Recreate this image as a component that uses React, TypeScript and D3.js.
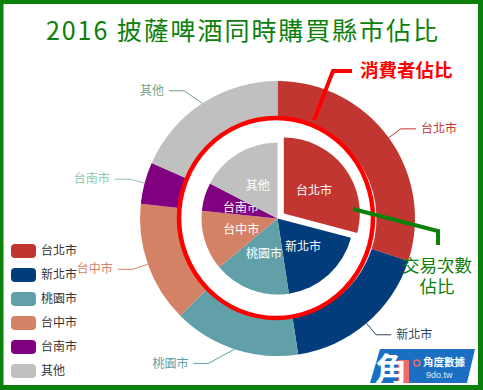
import React from "react";
import * as d3 from "d3";

// 縣市與兩組佔比（%）
const cities = ["台北市", "新北市", "桃園市", "台中市", "台南市", "其他"];
const consumerShare = [30.0, 17.6, 14.9, 14.2, 4.9, 18.4]; // 外環：消費者佔比
const tradeShare = [29.1, 18.5, 16.3, 12.7, 6.0, 17.4]; // 內圓：交易次數佔比
const sliceColors = ["#c23632", "#023c7b", "#61a0a8", "#d48265", "#800080", "#c0c0c0"];
const labelColors = ["#c23531", "#2f4554", "#61a0a8", "#d48265", "#91c7ae", "#749f83"];

const W = 483;
const H = 390;
const cx = 277.5;
const cy = 218.5;
const outerR = 137.5;
const ringInnerR = 99;
const pieR = 76;
const explode = 8;
const FONT = "'Noto Sans CJK TC', 'Noto Sans CJK SC', sans-serif";
// tighter line metrics for stacked notes; CJK glyphs fall back to Noto
const TIGHT = "'Liberation Sans', 'Noto Sans CJK TC', sans-serif";
const GREEN = "#0b800b";

export default function App() {
  const pie = d3.pie<number>().sort(null).value((d) => d);
  const outerArcs = pie(consumerShare);
  const innerArcs = pie(tradeShare);

  const ringArc = d3.arc<d3.PieArcDatum<number>>().innerRadius(ringInnerR).outerRadius(outerR);
  const pieArc = d3.arc<d3.PieArcDatum<number>>().innerRadius(0).outerRadius(pieR);

  // 外環標籤與引導線
  const len1 = 15;
  const len2 = 15;
  const outerLabels = outerArcs.map((a, i) => {
    const mid = (a.startAngle + a.endAngle) / 2;
    const sx = Math.sin(mid);
    const sy = -Math.cos(mid);
    const right = sx >= 0;
    const dir = right ? 1 : -1;
    const p0: [number, number] = [cx + outerR * sx, cy + outerR * sy];
    const y = cy + (outerR + len1) * sy;
    let endX: number;
    if (right) {
      endX = cx + (outerR + len1) * sx + len2;
    } else {
      const dy = Math.abs(y - cy);
      const R = outerR + len1 + len2;
      endX = cx - Math.sqrt(R * R - dy * dy);
    }
    const p1: [number, number] = [endX - dir * len2, y];
    const p2: [number, number] = [endX, y];
    return { name: cities[i], color: labelColors[i], pts: [p0, p1, p2], right, tx: endX + dir * 5, ty: y };
  });

  const legendY = d3.scalePoint<string>().domain(cities).range([251, 371]);

  return (
    <svg
      width={W}
      height={H}
      style={{ position: "fixed", left: 0, top: 0, background: "#fff" }}
      fontFamily={FONT}
    >
      <rect width={W} height={H} fill="#fff" />

      {/* 標題 */}
      <text
        x={242}
        y={40}
        textAnchor="middle"
        fontSize={25}
        fill={GREEN}
        textLength={392}
        lengthAdjust="spacing"
      >
        2016 披薩啤酒同時購買縣市佔比
      </text>

      {/* 外環 */}
      <g transform={`translate(${cx},${cy})`}>
        {outerArcs.map((a, i) => (
          <path key={i} d={ringArc(a) || ""} fill={sliceColors[i]} />
        ))}
      </g>

      {/* 內圓 */}
      <g transform={`translate(${cx},${cy})`}>
        {innerArcs.map((a, i) => {
          const mid = (a.startAngle + a.endAngle) / 2;
          const off = i === 0 ? explode : 0;
          const dx = off * Math.sin(mid);
          const dy = -off * Math.cos(mid);
          const lr = pieR / 2;
          return (
            <g key={i} transform={`translate(${dx},${dy})`}>
              <path d={pieArc(a) || ""} fill={sliceColors[i]} />
              <text
                x={lr * Math.sin(mid)}
                y={-lr * Math.cos(mid)}
                dy="0.35em"
                textAnchor="middle"
                fontSize={12}
                fill="#fff"
              >
                {cities[i]}
              </text>
            </g>
          );
        })}
      </g>

      {/* 外環標籤 */}
      {outerLabels.map((l, i) => (
        <g key={i}>
          <polyline
            points={l.pts.map((p) => p.join(",")).join(" ")}
            fill="none"
            stroke={l.color}
            strokeWidth={1}
          />
          <text
            x={l.tx}
            y={l.ty}
            dy="0.35em"
            textAnchor={l.right ? "start" : "end"}
            fontSize={12}
            fill={l.color}
          >
            {l.name}
          </text>
        </g>
      ))}

      {/* 圖例 */}
      {cities.map((c, i) => (
        <g key={c}>
          <rect x={11} y={legendY(c)! - 7} width={25} height={14} rx={4} fill={sliceColors[i]} />
          <text x={41} y={legendY(c)!} dy="0.35em" fontSize={12} fill="#333">
            {c}
          </text>
        </g>
      ))}

      {/* 手繪註記 */}
      <ellipse cx={cx - 1.5} cy={cy - 0.5} rx={97} ry={100} fill="none" stroke="#ff0000" strokeWidth={4.5} />
      <polyline points="314,120 333,71 352,71" fill="none" stroke="#ff0000" strokeWidth={4} />
      <text x={360} y={71} dy="0.35em" fontSize={18.5} fontWeight="bold" fill="#ff0000">
        消費者佔比
      </text>
      <polyline points="353,209 438,231 438,245" fill="none" stroke={GREEN} strokeWidth={4} />
      <text textAnchor="middle" fontSize={17.5} fill={GREEN} fontFamily={TIGHT}>
        <tspan x={437} y={272}>交易次數</tspan>
        <tspan x={437} y={293}>佔比</tspan>
      </text>

      {/* 角度數據 logo */}
      <g>
        <polygon points="380,349 475,349 467,383 370,383" fill="#1b6fc3" />
        <rect x={398} y={360} width={11} height={23} fill="#f26a6a" />
        <text x={375} y={381} fontSize={32} fontWeight="bold" fill="#fff">
          角
        </text>
        <circle cx={417} cy={363} r={3} fill="none" stroke="#f26a6a" strokeWidth={1.6} />
        <text fill="#fff" fontFamily={TIGHT}>
          <tspan x={423} y={366} fontSize={10.5} fontWeight="bold">角度數據</tspan>
          <tspan x={426} y={377.5} fontSize={9} fill="#dfe9f5">9do.tw</tspan>
        </text>
      </g>

      {/* 外框 */}
      <rect x={0} y={0} width={W} height={4} fill={GREEN} />
      <rect x={0} y={385} width={W} height={5} fill={GREEN} />
      <rect x={0} y={0} width={3.5} height={H} fill={GREEN} />
      <rect x={478} y={0} width={5} height={H} fill={GREEN} />
    </svg>
  );
}
